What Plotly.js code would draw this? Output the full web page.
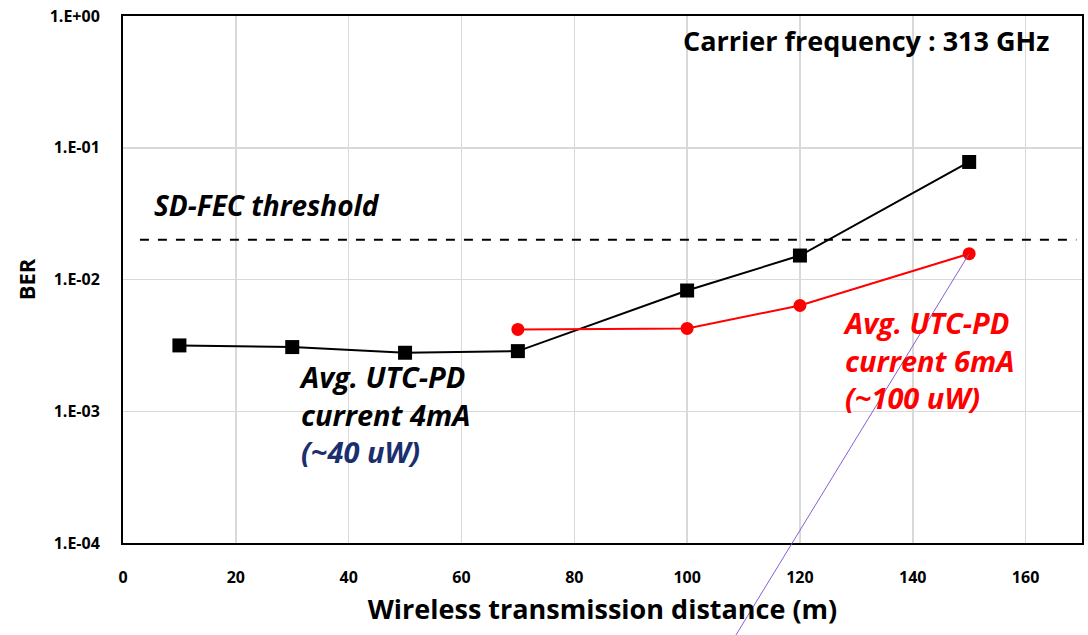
<!DOCTYPE html>
<html>
<head>
<meta charset="utf-8">
<script src="https://cdn.plot.ly/plotly-3.0.1.min.js"></script>
<style>html,body{margin:0;padding:0;background:#fff;}#chart{width:1088px;height:635px;}</style>
</head>
<body>
<div id="chart"></div>
<script>
const distance4mA = [10, 30, 50, 70, 100, 120, 150];
const ber4mA = [3.16e-3, 3.07e-3, 2.78e-3, 2.86e-3, 8.25e-3, 1.52e-2, 7.8e-2];
const distance6mA = [70, 100, 120, 150];
const ber6mA = [4.18e-3, 4.25e-3, 6.35e-3, 1.57e-2];
const fecThreshold = 2e-2;
const yTickVals = [1e-4, 1e-3, 1e-2, 1e-1, 1];
const yTickText = ['1.E-04', '1.E-03', '1.E-02', '1.E-01', '1.E+00'];
const xTickVals = [0, 20, 40, 60, 80, 100, 120, 140, 160];

const FONT = '"Open Sans", sans-serif';

const traces = [
  {
    x: distance4mA, y: ber4mA, type: 'scatter', mode: 'lines+markers',
    line: {color: '#000000', width: 2},
    marker: {symbol: 'square', size: 14, color: '#000000'},
    showlegend: false, cliponaxis: false
  },
  {
    x: distance6mA, y: ber6mA, type: 'scatter', mode: 'lines+markers',
    line: {color: '#ff0000', width: 2},
    marker: {symbol: 'circle', size: 13, color: '#ff0000'},
    showlegend: false, cliponaxis: false
  }
];

const layout = {
  width: 1088, height: 635,
  margin: {l: 123, r: 6, t: 16, b: 92},
  paper_bgcolor: '#ffffff', plot_bgcolor: '#ffffff',
  font: {family: FONT, color: '#000000'},
  xaxis: {
    range: [0, 170], tickvals: xTickVals, ticks: '',
    ticklabelstandoff: 19,
    tickfont: {family: FONT, size: 16, color: '#000', weight: 'bold'},
    showgrid: true, gridcolor: '#d9d9d9', gridwidth: 1.5,
    showline: true, linecolor: '#000', linewidth: 2, mirror: true,
    zeroline: false,
    title: {text: '<b>Wireless transmission distance (m)</b>', font: {family: FONT, size: 27, color: '#000'}, standoff: 13}
  },
  yaxis: {
    type: 'log', range: [-4, 0], tickvals: yTickVals, ticktext: yTickText, ticks: '',
    ticklabelstandoff: 18,
    tickfont: {family: FONT, size: 16, color: '#000', weight: 'bold'},
    showgrid: true, gridcolor: '#d9d9d9', gridwidth: 1.5,
    showline: true, linecolor: '#000', linewidth: 2, mirror: true,
    zeroline: false,
    title: {text: '<b>BER</b>', font: {family: FONT, size: 22, color: '#000'}, standoff: 8}
  },
  shapes: [
    {type: 'line', xref: 'x', yref: 'y', x0: 3, x1: 169, y0: fecThreshold, y1: fecThreshold,
     line: {color: '#000', width: 2, dash: 'dash'}},
    {type: 'line', xref: 'paper', yref: 'paper', x0: 0.882, y0: 0.548, x1: 0.638, y1: -0.178,
     line: {color: '#8a5cd6', width: 1}}
  ],
  annotations: [
    {xref: 'paper', yref: 'paper', x: 0.968, y: 0.954, xanchor: 'right', yanchor: 'middle', showarrow: false,
     text: '<b>Carrier frequency : 313 GHz</b>', font: {family: FONT, size: 27, color: '#000'}},
    {xref: 'x', yref: 'paper', x: 5.2, y: 0.641, xanchor: 'left', yanchor: 'middle', showarrow: false,
     text: '<b><i>SD-FEC threshold</i></b>', font: {family: FONT, size: 28, color: '#000'}},
    {xref: 'x', yref: 'paper', x: 30.9, y: 0.244, xanchor: 'left', yanchor: 'middle', showarrow: false, align: 'left',
     text: '<b><i>Avg. UTC-PD<br>current 4mA<br><span style="color:#1b2f6e">(~40 uW)</span></i></b>',
     font: {family: FONT, size: 29, color: '#000'}},
    {xref: 'x', yref: 'paper', x: 127.2, y: 0.347, xanchor: 'left', yanchor: 'middle', showarrow: false, align: 'left',
     text: '<b><i>Avg. UTC-PD<br>current 6mA<br>(~100 uW)</i></b>',
     font: {family: FONT, size: 29, color: '#ff0000'}}
  ]
};

Plotly.newPlot('chart', traces, layout, {displayModeBar: false, staticPlot: true});
</script>
</body>
</html>
